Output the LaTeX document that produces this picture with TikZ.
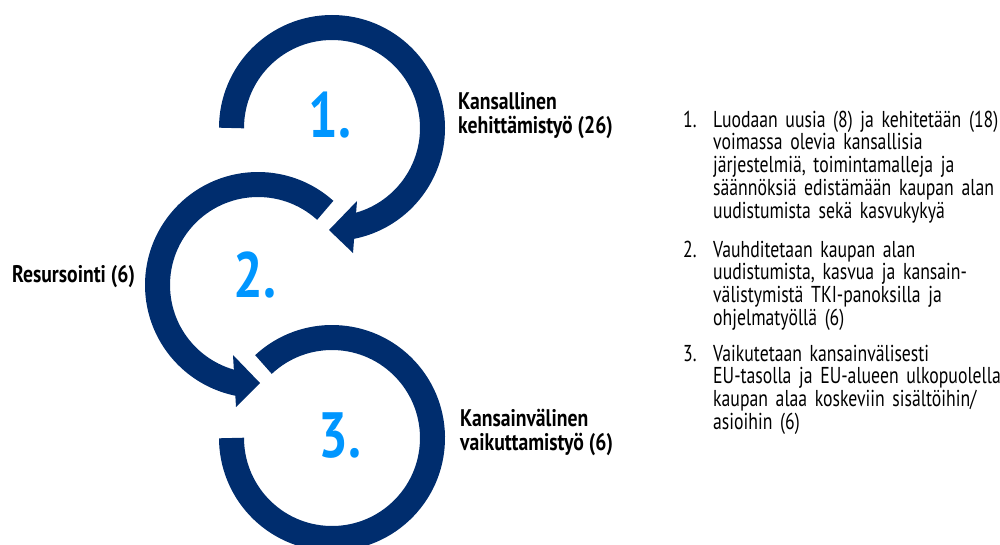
\documentclass[tikz,border=0pt]{standalone}
\usepackage{fontspec}
\setmainfont{PT Sans}[FakeStretch=0.77]
\newfontfamily\labelfont{PT Sans}[FakeStretch=0.82]
\newfontfamily\numfont{PT Sans}[FakeStretch=0.82]
\definecolor{navy}{RGB}{0,45,110}
\definecolor{numblue}{RGB}{0,150,255}
\newcommand{\topstrut}{\rule{0pt}{20pt}}
\newcommand{\labstrut}{\rule{0pt}{22pt}}
\begin{document}
\begin{tikzpicture}[x=1pt,y=-1pt,
  ring/.style={draw=navy,line width=25pt},
  head/.style={fill=navy},
  bignum/.style={text=numblue,font=\numfont\bfseries\fontsize{64}{64}\selectfont,inner sep=0pt},
  label/.style={anchor=north west,inner sep=0pt,align=left,font=\labelfont\bfseries\fontsize{24}{24.5}\selectfont,text=black},
  itemnum/.style={anchor=base west,inner sep=0pt,font=\fontsize{23}{22.7}\selectfont},
  itemtext/.style={anchor=north west,inner sep=0pt,align=left,text width=300pt,font=\fontsize{23}{22.7}\selectfont}]
\useasboundingbox (0,0) rectangle (1000,544);
\coordinate (c1) at (332,128);
\coordinate (c2) at (258,285);
\coordinate (c3) at (332,438);
% circle 1
\draw[ring] ([shift={(180:100.5)}]c1) arc[start angle=180,end angle=439,radius=100.5];
\fill[head] (357,201) -- (329,230) -- (353,253) -- cycle;
% circle 2
\draw[ring] ([shift={(312:100.5)}]c2) arc[start angle=312,end angle=101,radius=100.5];
\fill[head] (233,355) -- (260,383) -- (236,407) -- cycle;
% circle 3
\draw[ring] ([shift={(227:100.5)}]c3) arc[start angle=227,end angle=540,radius=100.5];
% big numbers
\node[bignum] (n1) at (330,115) {1.};
\node[bignum] (n2) at (255,275) {2.};
\node[bignum] (n3) at (340,436) {3.};
% labels
\node[label] (l1) at (458,87) {\labstrut Kansallinen\\kehittämistyö (26)};
\node[label] (l2) at (12,260) {\labstrut Resursointi (6)};
\node[label] (l3) at (460,404) {\labstrut Kansainvälinen\\vaikuttamistyö (6)};
% list
\node[itemnum] (i1) at (683,127) {1.};
\node[itemtext] (t1) at (713,107) {\topstrut Luodaan uusia (8) ja kehitetään (18)\\voimassa olevia kansallisia\\järjestelmiä, toimintamalleja ja\\säännöksiä edistämään kaupan alan\\uudistumista sekä kasvukykyä};
\node[itemnum] (i2) at (683,257) {2.};
\node[itemtext] (t2) at (713,237) {\topstrut Vauhditetaan kaupan alan\\uudistumista, kasvua ja kansain-\\välistymistä TKI-panoksilla ja\\ohjelmatyöllä (6)};
\node[itemnum] (i3) at (683,361) {3.};
\node[itemtext] (t3) at (713,341) {\topstrut Vaikutetaan kansainvälisesti\\EU-tasolla ja EU-alueen ulkopuolella\\kaupan alaa koskeviin sisältöihin/\\asioihin (6)};
\end{tikzpicture}
\end{document}
